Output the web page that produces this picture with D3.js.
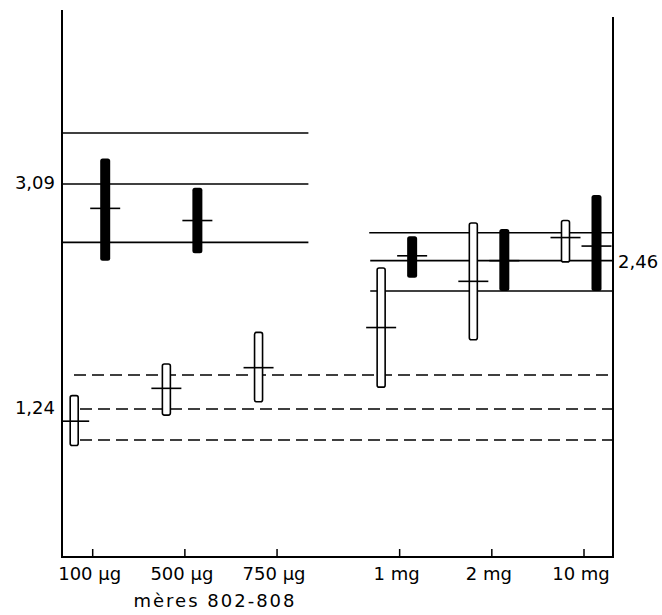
<!DOCTYPE html>
<html>
<head>
<meta charset="utf-8">
<script src="https://cdn.jsdelivr.net/npm/d3@7"></script>
<style>
    body { margin: 0; background: #fff; }
    text { font-family: "DejaVu Sans", sans-serif; fill: #000; }
</style>
</head>
<body>
<div id="chart"></div>
<script>
// doses on the x axis
const doses = ['100 µg', '500 µg', '750 µg', '1 mg', '2 mg', '10 mg'];
const groupLabel = 'mères 802-808';

// open bars (low / mean / high)
const openLow = [0.94, 1.19, 1.30, 1.42, 1.81, 2.45];
const openMean = [1.14, 1.41, 1.58, 1.91, 2.29, 2.65];
const openHigh = [1.35, 1.61, 1.87, 2.40, 2.77, 2.79];

// black bars (low / mean / high), none for 750 µg
const filledLow = [2.46, 2.52, null, 2.32, 2.21, 2.21];
const filledMean = [2.89, 2.79, null, 2.50, 2.46, 2.58];
const filledHigh = [3.30, 3.06, null, 2.66, 2.72, 3.00];

// reference bands
const refLeft = [2.61, 3.09, 3.51];
const refRight = [2.21, 2.46, 2.69];
const refDashed = [0.985, 1.24, 1.52];

// labelled values
const leftLabels = ['3,09', '1,24'];
const leftLabelValues = [3.09, 1.24];
const rightLabels = ['2,46'];
const rightLabelValues = [2.46];

// slot of each dose along the axis (gap between µg and mg)
const slots = [0, 1, 2, 3.33, 4.33, 5.33];

const W = 662, H = 615;
const axisLeft = 62, axisRight = 613, axisBottom = 557;

const svg = d3.select('#chart').append('svg')
    .attr('width', W)
    .attr('height', H);

const x = d3.scaleLinear().domain([0, 5.33]).range([92.7, 584]);
const y = d3.scaleLinear().domain([0, 4.5]).range([559.8, 12.6]);

// reference lines
const refs = svg.append('g').attr('class', 'refs')
    .attr('stroke', '#000').attr('fill', 'none');

refs.selectAll('line.left').data(refLeft).enter().append('line')
    .attr('class', 'left')
    .attr('x1', axisLeft).attr('x2', x(2.34))
    .attr('y1', d => y(d)).attr('y2', d => y(d))
    .attr('stroke-width', 1.6);

refs.selectAll('line.right').data(refRight).enter().append('line')
    .attr('class', 'right')
    .attr('x1', (d, i) => x(3) + (i === 2 ? 0 : 1)).attr('x2', axisRight + 1)
    .attr('y1', d => y(d)).attr('y2', d => y(d))
    .attr('stroke-width', 1.6);

refs.selectAll('line.dashed').data(refDashed).enter().append('line')
    .attr('class', 'dashed')
    .attr('x1', (d, i) => i === 2 ? 74 : 80).attr('x2', axisRight)
    .attr('y1', d => y(d)).attr('y2', d => y(d))
    .attr('stroke-width', 1.6)
    .attr('stroke-dasharray', '12,6');

// bars
const openOffset = -18.5, filledOffset = 12.5;
const openW = 8, filledW = 10, crossW = 30;

const openData = doses.map((d, i) => ({ i, lo: openLow[i], mean: openMean[i], hi: openHigh[i] }));
const filledData = doses.map((d, i) => ({ i, lo: filledLow[i], mean: filledMean[i], hi: filledHigh[i] }))
    .filter(d => d.mean !== null);

const bars = svg.append('g').attr('class', 'bars');

bars.selectAll('rect.open').data(openData).enter().append('rect')
    .attr('class', 'open')
    .attr('x', d => x(slots[d.i]) + openOffset - openW / 2)
    .attr('y', d => y(d.hi))
    .attr('width', openW)
    .attr('height', d => y(d.lo) - y(d.hi))
    .attr('rx', 2)
    .attr('fill', '#fff')
    .attr('stroke', '#000')
    .attr('stroke-width', 1.6);

bars.selectAll('rect.filled').data(filledData).enter().append('rect')
    .attr('class', 'filled')
    .attr('x', d => x(slots[d.i]) + filledOffset - filledW / 2)
    .attr('y', d => y(d.hi))
    .attr('width', filledW)
    .attr('height', d => y(d.lo) - y(d.hi))
    .attr('rx', 2.5)
    .attr('fill', '#000');

const crosses = openData.map(d => ({ cx: x(slots[d.i]) + openOffset, v: d.mean }))
    .concat(filledData.map(d => ({ cx: x(slots[d.i]) + filledOffset, v: d.mean })));

bars.selectAll('line.mean').data(crosses).enter().append('line')
    .attr('class', 'mean')
    .attr('x1', d => Math.max(axisLeft, d.cx - crossW / 2))
    .attr('x2', d => Math.min(axisRight, d.cx + crossW / 2))
    .attr('y1', d => y(d.v)).attr('y2', d => y(d.v))
    .attr('stroke', '#000')
    .attr('stroke-width', 1.6);

// frame
const frame = svg.append('g').attr('stroke', '#000').attr('stroke-width', 2);
frame.append('line').attr('x1', axisLeft).attr('x2', axisLeft).attr('y1', 10).attr('y2', axisBottom + 1);
frame.append('line').attr('x1', axisRight).attr('x2', axisRight).attr('y1', 17).attr('y2', axisBottom + 1);
frame.append('line').attr('x1', axisLeft).attr('x2', axisRight + 1).attr('y1', axisBottom).attr('y2', axisBottom);

// x ticks and labels
const xAxis = svg.append('g').attr('class', 'x-axis');
xAxis.selectAll('line').data(slots).enter().append('line')
    .attr('x1', d => x(d)).attr('x2', d => x(d))
    .attr('y1', axisBottom).attr('y2', axisBottom - 8)
    .attr('stroke', '#000').attr('stroke-width', 1.5);
xAxis.selectAll('text').data(doses).enter().append('text')
    .attr('x', (d, i) => x(slots[i]) - 3)
    .attr('y', 580)
    .attr('text-anchor', 'middle')
    .attr('font-size', 18)
    .text(d => d);
svg.append('text')
    .attr('x', 215).attr('y', 607)
    .attr('text-anchor', 'middle')
    .attr('font-size', 18)
    .attr('letter-spacing', 2)
    .text(groupLabel);

// value labels
svg.selectAll('text.left-label').data(leftLabels).enter().append('text')
    .attr('class', 'left-label')
    .attr('x', 55)
    .attr('y', (d, i) => y(leftLabelValues[i]) + 5)
    .attr('text-anchor', 'end')
    .attr('font-size', 18)
    .text(d => d);
svg.selectAll('text.right-label').data(rightLabels).enter().append('text')
    .attr('class', 'right-label')
    .attr('x', 618)
    .attr('y', (d, i) => y(rightLabelValues[i]) + 7)
    .attr('font-size', 18)
    .text(d => d);
</script>
</body>
</html>
